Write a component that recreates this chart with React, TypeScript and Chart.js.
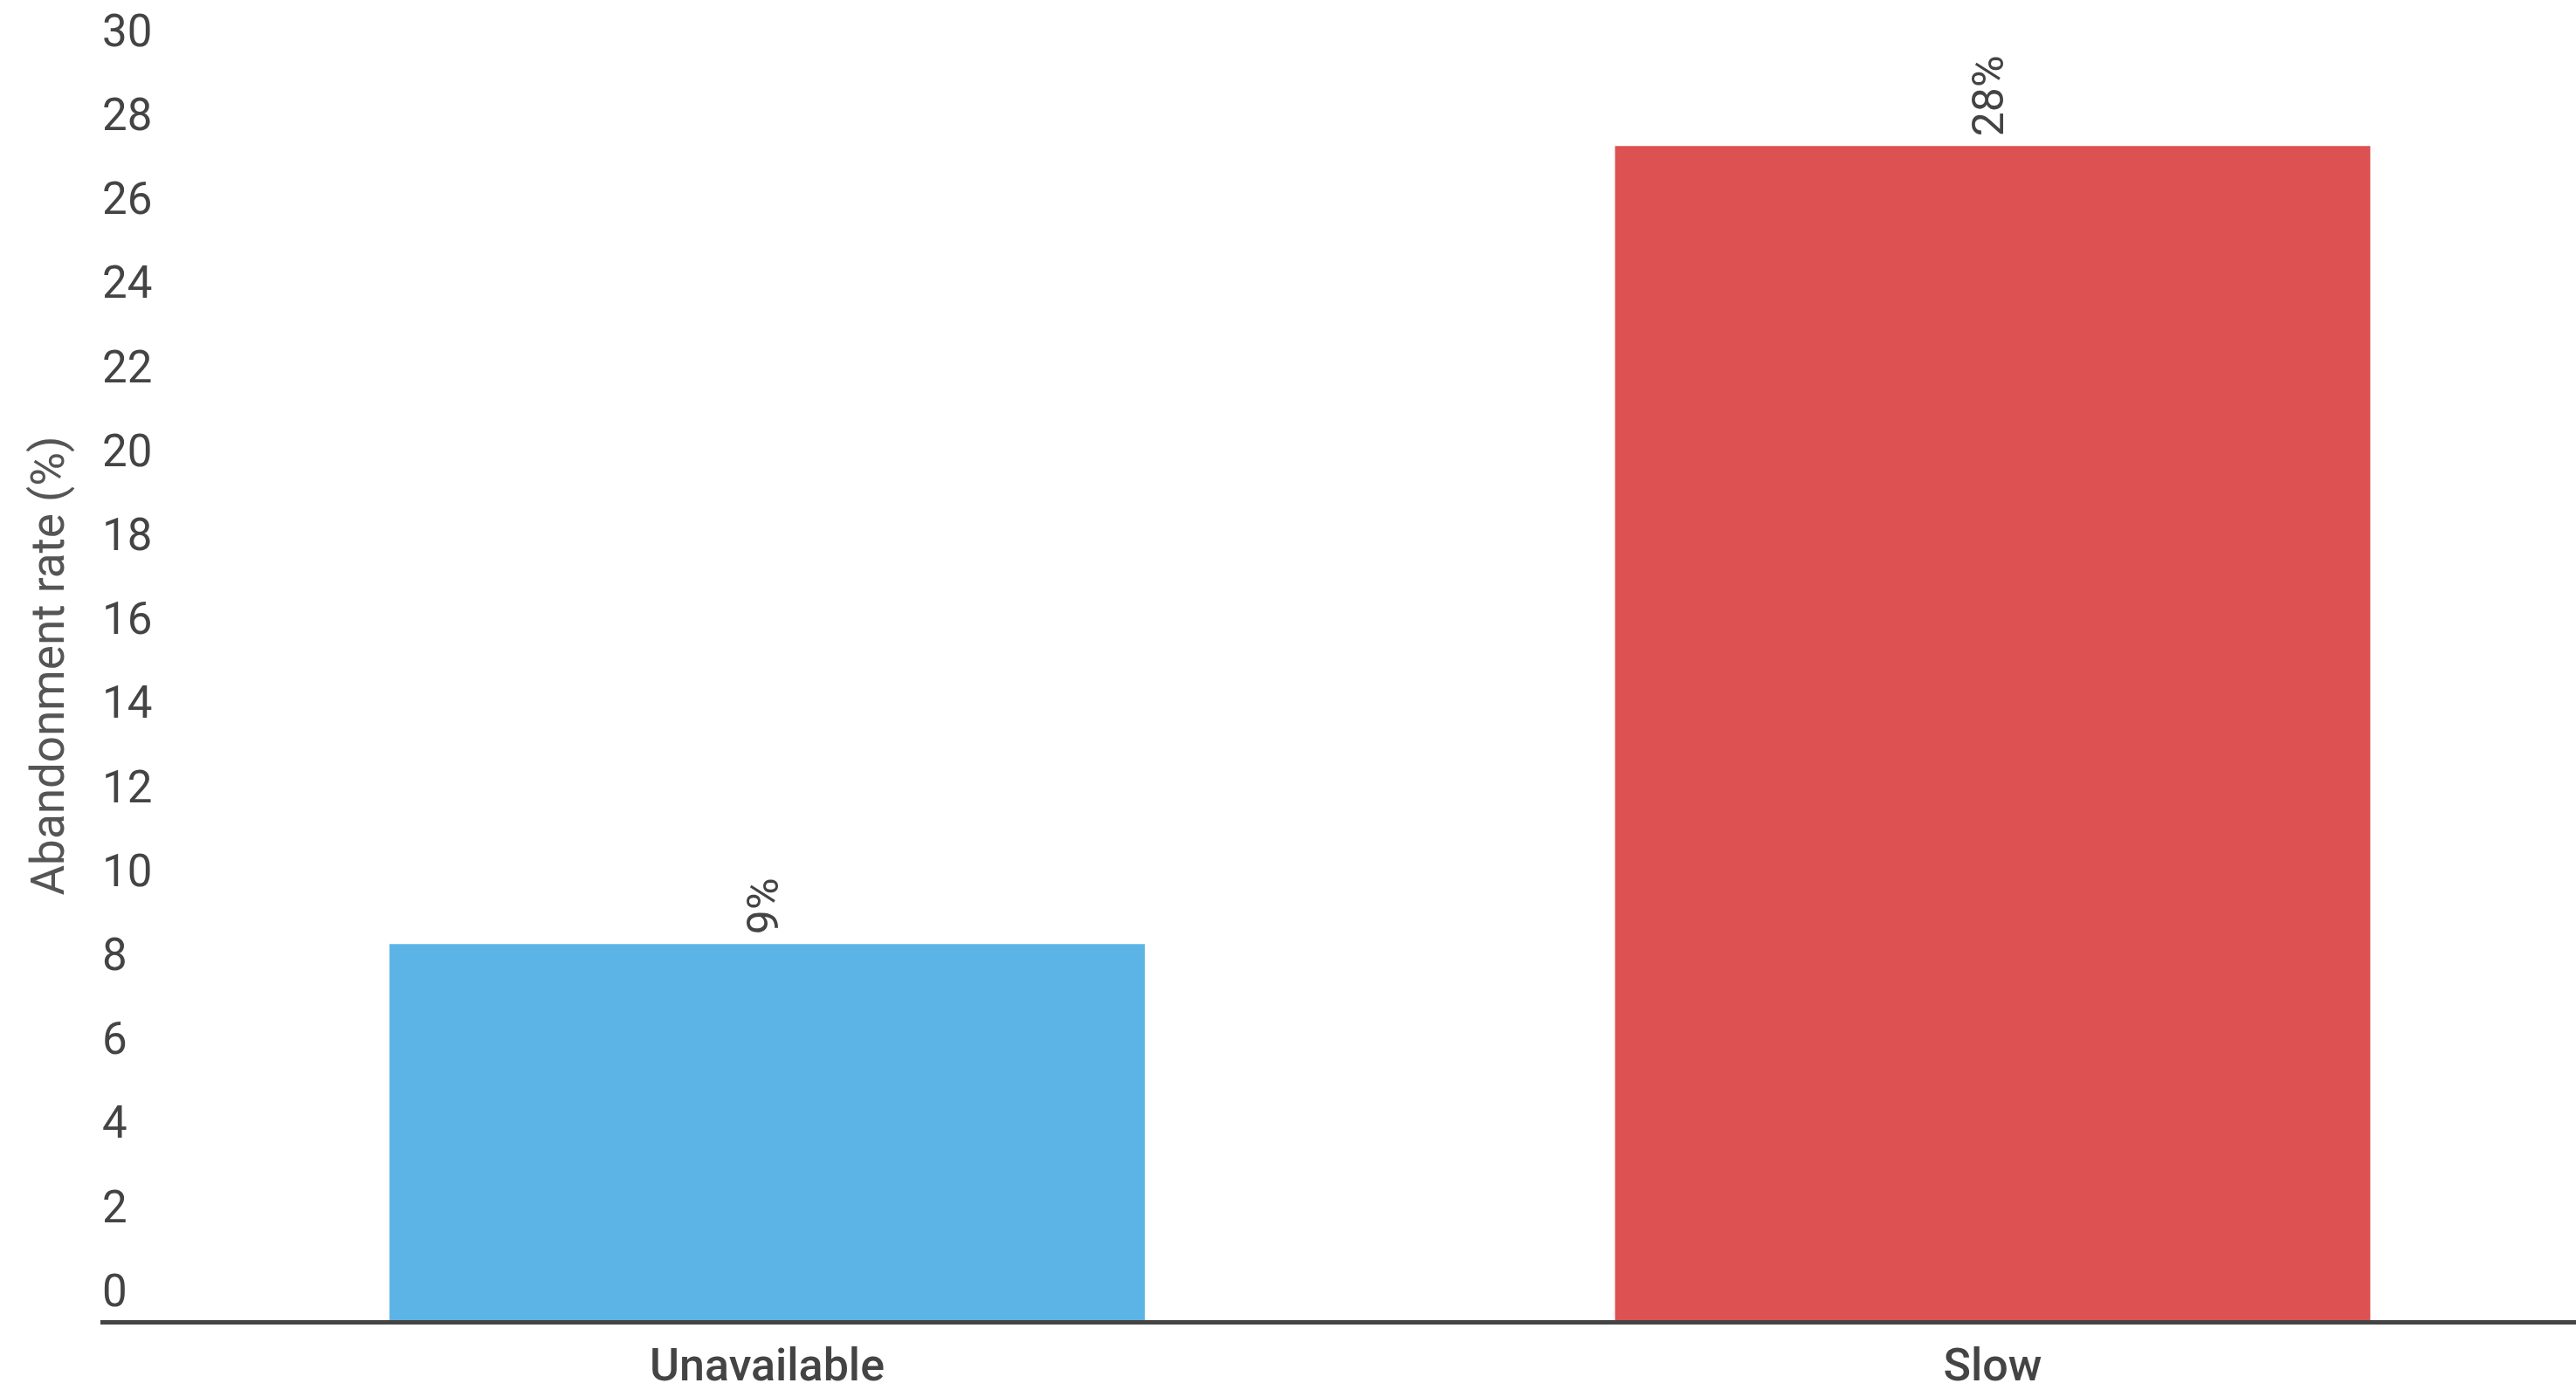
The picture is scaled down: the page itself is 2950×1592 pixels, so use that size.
import React, { useEffect, useRef } from "react";
import { Chart, registerables } from "chart.js";

Chart.register(...registerables);

const categories = ["Unavailable", "Slow"];
const values = [9, 28];
const barLabels = ["9%", "28%"];
const barColors = ["#5cb4e6", "#dd5153"];
const yAxisTitle = "Abandonment rate (%)";

const barLabelPlugin = {
  id: "barLabels",
  afterDatasetsDraw(chart: any) {
    const ctx = chart.ctx;
    const meta = chart.getDatasetMeta(0);
    ctx.save();
    ctx.font = "400 50px Roboto";
    ctx.fillStyle = "#444444";
    ctx.textAlign = "left";
    ctx.textBaseline = "middle";
    meta.data.forEach((el: any, i: number) => {
      ctx.save();
      ctx.translate(el.x, el.y - 11);
      ctx.rotate(-Math.PI / 2);
      ctx.fillText(barLabels[i], 0, 0);
      ctx.restore();
    });
    ctx.restore();
  },
};

export default function App() {
  const ref = useRef<HTMLCanvasElement | null>(null);

  useEffect(() => {
    if (!ref.current) return;
    const chart = new Chart(ref.current, {
      type: "bar",
      data: {
        datasets: [
          {
            data: categories.map((c, i) => ({ x: i, y: values[i] })),
            backgroundColor: barColors,
            borderWidth: 0,
            barPercentage: 0.6163,
            categoryPercentage: 1,
          },
        ],
      },
      options: {
        responsive: false,
        animation: false,
        layout: { padding: { top: 11, left: 0, right: 0, bottom: 0 } },
        plugins: {
          legend: { display: false },
          tooltip: { enabled: false },
        },
        scales: {
          x: {
            type: "linear",
            position: "bottom",
            offset: false,
            min: -0.5426,
            max: 1.476,
            grid: { display: false, drawTicks: false, offset: false },
            border: { display: true, color: "#444444", width: 5, z: 1 },
            afterBuildTicks: (scale: any) => {
              scale.ticks = categories.map((_, i) => ({ value: i }));
            },
            afterFit: (scale: any) => {
              scale.height = 78;
              scale.paddingLeft = 0;
              scale.paddingRight = 0;
            },
            ticks: {
              autoSkip: false,
              maxRotation: 0,
              padding: 23,
              color: "#444444",
              font: { family: "Roboto", size: 52, weight: "500" },
              callback: (v: any) => categories[Number(v)] ?? "",
            },
          },
          y: {
            type: "linear",
            position: "left",
            min: 0,
            max: 31.25,
            grid: { display: false, drawTicks: false },
            border: { display: false },
            afterFit: (scale: any) => {
              scale.width = 117;
              scale.paddingTop = 0;
              scale.paddingBottom = 0;
            },
            ticks: {
              stepSize: 2,
              includeBounds: false,
              mirror: true,
              padding: 0,
              crossAlign: "near",
              labelOffset: -31,
              color: "#444444",
              font: { family: "Roboto", size: 51, weight: "400" },
            },
            title: {
              display: true,
              text: yAxisTitle,
              color: "#555555",
              font: { family: "Roboto", size: 53, weight: "400" },
              padding: { top: 28, bottom: 0 },
            },
          },
        },
      },
      plugins: [barLabelPlugin],
    } as any);
    return () => chart.destroy();
  }, []);

  return (
    <div style={{ position: "absolute", left: 0, top: 0, width: 2950, height: 1592, background: "#ffffff" }}>
      <canvas ref={ref} width={2950} height={1592} style={{ display: "block" }} />
    </div>
  );
}
